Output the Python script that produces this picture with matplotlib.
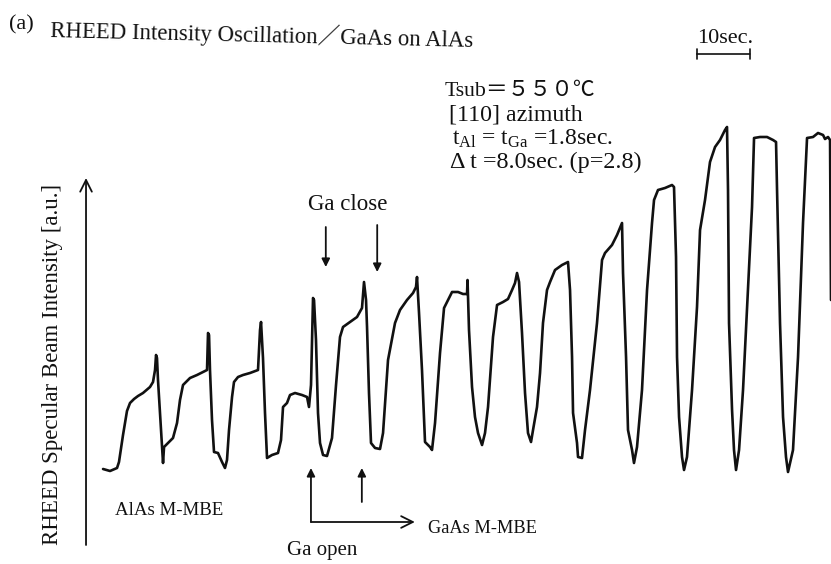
import matplotlib
matplotlib.use("Agg")
import matplotlib.pyplot as plt

W, H = 831, 564

# Recorder trace: elapsed time [s] and specular-beam intensity [a.u.]
time_s = [
    0.57, 1.89, 3.21, 3.58, 4.34, 5.09, 5.66, 6.42, 7.17, 8.11,
    9.43, 10.00, 10.38, 10.57, 10.75, 10.94, 11.32, 11.70, 11.89, 12.08,
    12.83, 13.77, 14.53, 15.09, 15.66, 16.98, 18.30, 19.43, 20.19, 20.38,
    20.57, 20.75, 21.13, 21.51, 22.26, 23.02, 23.58, 23.96, 24.34, 24.91,
    25.28, 26.04, 26.98, 28.30, 29.81, 30.19, 30.38, 30.75, 31.13, 31.51,
    32.45, 33.58, 34.15, 34.53, 35.28, 35.85, 36.79, 38.11, 39.06, 39.43,
    39.81, 40.19, 40.38, 40.75, 41.13, 41.51, 42.08, 42.83, 43.77, 44.53,
    45.28, 45.85, 47.17, 48.49, 49.43, 49.62, 49.81, 50.19, 50.38, 50.75,
    51.13, 51.89, 52.83, 53.40, 54.34, 55.66, 56.60, 57.92, 59.06, 59.62,
    59.81, 60.19, 60.75, 61.32, 62.26, 62.64, 63.21, 64.15, 64.91, 66.42,
    67.55, 68.49, 69.25, 69.34, 69.62, 70.19, 70.75, 71.32, 72.08, 72.64,
    73.21, 74.15, 74.91, 76.04, 76.98, 77.74, 78.30, 78.68, 79.06, 79.62,
    80.19, 80.75, 81.32, 81.70, 82.45, 83.02, 83.58, 84.34, 84.91, 85.85,
    87.17, 88.30, 88.68, 89.06, 89.25, 90.00, 90.19, 90.94, 91.51, 92.45,
    93.77, 94.72, 95.28, 96.60, 97.55, 98.49, 98.68, 99.25, 99.62, 100.38,
    100.75, 101.32, 102.26, 103.21, 104.15, 104.53, 105.28, 106.60, 107.92, 108.30,
    108.68, 108.87, 109.25, 109.81, 110.19, 110.75, 111.70, 112.64, 113.21, 114.15,
    115.09, 116.04, 116.98, 117.92, 118.30, 118.49, 118.68, 119.25, 119.62, 120.00,
    120.57, 121.32, 122.26, 123.02, 123.40, 124.53, 125.85, 126.98, 127.55, 127.74,
    128.30, 128.87, 129.43, 129.81, 130.75, 131.70, 132.64, 133.40, 134.53, 135.47,
    136.42, 136.79, 137.36, 137.74, 137.92,
]
intensity = [
    11, 9, 12, 18, 45, 69, 77, 81, 84, 87,
    93, 98, 110, 125, 122, 100, 67, 35, 17, 33,
    37, 42, 57, 80, 95, 102, 105, 108, 110, 147,
    145, 110, 60, 28, 27, 18, 12, 20, 50, 83,
    98, 103, 105, 107, 110, 150, 158, 122, 67, 22,
    25, 27, 40, 73, 77, 85, 87, 85, 83, 73,
    95, 182, 180, 140, 67, 37, 25, 24, 42, 95,
    143, 153, 158, 163, 172, 185, 198, 180, 153, 87,
    37, 32, 31, 47, 120, 157, 170, 180, 187, 193,
    203, 167, 110, 38, 33, 30, 57, 127, 172, 188,
    188, 186, 186, 200, 150, 93, 63, 47, 35, 47,
    73, 143, 175, 178, 181, 190, 197, 207, 198, 147,
    87, 47, 38, 50, 73, 107, 157, 190, 198, 210,
    215, 218, 190, 123, 67, 37, 23, 22, 50, 90,
    157, 220, 227, 235, 245, 257, 207, 123, 50, 30,
    17, 33, 90, 190, 257, 280, 290, 292, 295, 293,
    223, 123, 63, 23, 10, 23, 90, 173, 250, 280,
    318, 333, 340, 350, 353, 290, 157, 70, 30, 10,
    30, 90, 190, 273, 342, 343, 343, 340, 338, 290,
    157, 63, 23, 8, 30, 123, 257, 342, 343, 347,
    345, 341, 343, 340, 180,
]

# Shutter events [s]
ga_close_s = [42.6, 52.3]
ga_open_s = [39.8, 49.4]
scale_bar_s = [112.6, 122.6]

plt.rcParams['font.family'] = ['Liberation Serif', 'Noto Sans CJK JP', 'DejaVu Sans']
plt.rcParams['mathtext.fontset'] = 'custom'
plt.rcParams['mathtext.rm'] = 'Liberation Serif'
plt.rcParams['mathtext.it'] = 'Liberation Serif'

fig = plt.figure(figsize=(W / 100, H / 100), dpi=100, facecolor='white')
ax = fig.add_axes([0, 0, 1, 1])
ax.set_xlim(-18.87, 137.92)
ax.set_ylim(-84, 480)
ax.axis('off')

INK = '#111111'
ax.plot(time_s, intensity, color=INK, lw=1.9, solid_joinstyle='round',
        solid_capstyle='round')


def px(x, y):
    """pixel position (origin top-left) -> figure fraction"""
    return x / W, 1 - y / H


def arrow(tail, tip, style='-|>', lw=1.3, ms=12):
    ax.annotate('', xy=tip, xytext=tail,
                arrowprops=dict(arrowstyle=style, color=INK, lw=lw,
                                mutation_scale=ms, shrinkA=0, shrinkB=0))


def label(x, y, s, size, **kw):
    kw.setdefault('ha', 'left')
    kw.setdefault('va', 'baseline')
    fig.text(*px(x, y), s, fontsize=size, color=INK, **kw)


# intensity axis
arrow((-2.64, -65), (-2.64, 302), style='->,head_length=0.6,head_width=0.3', lw=1.3, ms=14)

# Ga shutter closing
arrow((ga_close_s[0], 253), (ga_close_s[0], 213))
arrow((ga_close_s[1], 255), (ga_close_s[1], 208))
# Ga shutter opening
arrow((ga_open_s[0], -42), (ga_open_s[0], 12))
arrow((ga_open_s[1], -22), (ga_open_s[1], 12))
arrow((ga_open_s[0], -42), (59.4, -42), style='->,head_length=0.6,head_width=0.3', ms=14)

# 10 s scale bar
ax.annotate('', xy=(scale_bar_s[1], 426), xytext=(scale_bar_s[0], 426),
            arrowprops=dict(arrowstyle='|-|,widthA=0.25,widthB=0.25', color=INK,
                            lw=1.2, mutation_scale=14, shrinkA=0, shrinkB=0))

label(9, 29, '(a)', 16)
label(50, 37, 'RHEED Intensity Oscillation／GaAs on AlAs', 16.4,
      rotation=-1.35, rotation_mode='anchor')
label(697, 43, '10sec.', 16)

label(445, 96, 'Tsub＝５５０℃', 15.7)
label(449, 120, '[110] azimuth', 17.2)
label(452, 145, r't$_{\rm Al}$ = t$_{\rm Ga}$ =1.8sec.', 17)
label(450, 168, 'Δ t =8.0sec. (p=2.8)', 17.4)

label(348, 210, 'Ga close', 16.5, ha='center')
label(115, 515, 'AlAs M-MBE', 13.6)
label(428, 533, 'GaAs M-MBE', 13.2)
label(287, 555, 'Ga open', 15)

label(53, 364, 'RHEED Specular Beam Intensity [a.u.]', 16.5,
      rotation=90, ha='center', va='center')

fig.savefig('out.png', dpi=100, facecolor='white')
